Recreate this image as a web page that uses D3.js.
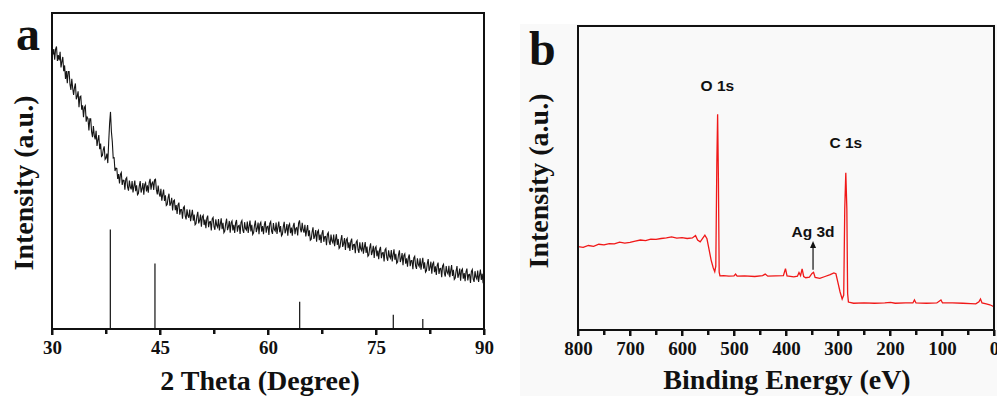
<!DOCTYPE html>
<html>
<head>
<meta charset="utf-8">
<script src="https://cdn.jsdelivr.net/npm/d3@7"></script>
<style>
  html, body { margin: 0; padding: 0; background: #fff; }
  #wrap { position: relative; width: 997px; height: 396px; }
  svg { display: block; position: absolute; left: 0; top: 0; }
  #overlay { position: absolute; left: 0; top: 0; width: 997px; height: 396px; pointer-events: none; }
  #overlay div { position: absolute; }
</style>
</head>
<body>
<div id="wrap">
<svg id="chart" width="997" height="396"></svg>
<div id="overlay"></div>
</div>
<script>
// ---- panel a : XRD pattern ----
const xrdTicks = [30, 45, 60, 75, 90];
const xrdMinor = [37.5, 52.5, 67.5, 82.5];
const xrdStart = 30, xrdStep = 0.125; // scan 30 -> 90 deg
const xrdIntensity = [
  90.7, 86.8, 88.6, 85.2, 88.6, 89.4, 84.8, 86.7,
  85.0, 87.7, 82.8, 84.6, 86.1, 81.6, 83.4, 79.1,
  81.6, 77.8, 81.5, 81.5, 77.4, 75.7, 79.2, 76.2,
  74.1, 76.4, 77.7, 72.7, 73.6, 75.2, 70.2, 73.5,
  73.7, 69.4, 70.8, 67.0, 70.1, 70.6, 65.6, 67.1,
  66.6, 62.8, 66.5, 66.5, 62.4, 60.7, 64.2, 61.2,
  60.0, 62.7, 57.9, 59.8, 61.4, 56.9, 58.7, 54.6,
  54.9, 56.8, 57.8, 53.7, 54.1, 55.5, 52.5, 59.2,
  65.0, 68.7, 62.5, 59.3, 54.1, 54.2, 50.0, 50.9,
  50.8, 47.5, 49.0, 46.1, 48.9, 49.5, 45.6, 47.1,
  47.0, 44.1, 47.5, 47.9, 44.9, 43.8, 47.0, 44.9,
  44.2, 46.8, 43.2, 45.2, 47.0, 43.6, 45.5, 42.5,
  42.9, 45.3, 46.8, 43.2, 44.3, 46.2, 42.5, 45.7,
  46.3, 43.5, 45.5, 43.1, 46.4, 47.5, 44.1, 46.1,
  46.5, 44.0, 47.2, 47.4, 44.1, 42.6, 45.4, 42.9,
  41.9, 44.4, 40.6, 42.5, 44.1, 40.5, 42.3, 39.1,
  39.4, 41.6, 42.8, 39.0, 39.8, 41.5, 37.5, 40.5,
  40.8, 37.6, 39.2, 36.4, 39.3, 40.0, 36.2, 37.8,
  37.8, 34.9, 38.4, 38.8, 35.8, 34.7, 37.9, 35.9,
  35.2, 37.8, 34.1, 36.0, 37.7, 34.3, 36.2, 33.0,
  33.4, 35.7, 37.1, 33.4, 34.4, 36.2, 32.4, 35.5,
  36.0, 32.9, 34.6, 31.9, 35.0, 35.9, 32.2, 33.9,
  34.0, 31.2, 34.8, 35.3, 32.4, 31.4, 34.7, 32.8,
  32.2, 34.8, 31.2, 33.2, 35.0, 31.6, 33.6, 30.5,
  31.0, 33.4, 34.9, 31.3, 32.3, 34.2, 30.5, 33.6,
  34.2, 31.2, 33.0, 30.4, 33.5, 34.5, 30.8, 32.6,
  32.8, 30.1, 33.7, 34.3, 31.3, 30.4, 33.8, 31.8,
  31.3, 34.0, 30.4, 32.5, 34.3, 30.9, 33.0, 29.9,
  30.4, 32.8, 34.3, 30.7, 31.8, 33.7, 30.0, 33.2,
  33.8, 30.8, 32.6, 30.0, 33.1, 34.1, 30.5, 32.3,
  32.5, 29.8, 33.4, 34.0, 31.0, 30.1, 33.5, 31.5,
  31.0, 33.7, 30.1, 32.2, 34.0, 30.6, 32.6, 29.5,
  30.0, 32.4, 33.9, 30.3, 31.4, 33.2, 29.5, 32.7,
  33.3, 30.3, 32.1, 29.5, 32.6, 33.6, 30.0, 31.9,
  32.1, 29.6, 33.5, 34.4, 31.7, 30.6, 33.6, 31.4,
  30.5, 33.0, 29.3, 31.2, 32.9, 29.4, 31.2, 28.1,
  28.4, 30.7, 32.2, 28.5, 29.5, 31.3, 27.6, 30.7,
  31.2, 28.1, 29.9, 27.2, 30.3, 31.3, 27.6, 29.2,
  29.3, 26.5, 30.0, 30.5, 27.6, 26.6, 29.9, 27.9,
  27.3, 29.9, 26.2, 28.3, 30.0, 26.6, 28.5, 25.5,
  25.9, 28.2, 29.7, 26.0, 27.0, 28.8, 25.0, 28.2,
  28.7, 25.6, 27.4, 24.7, 27.7, 28.6, 25.0, 26.7,
  26.8, 24.0, 27.5, 28.0, 25.1, 24.1, 27.4, 25.4,
  24.8, 27.4, 23.8, 25.8, 27.5, 24.1, 26.1, 23.0,
  23.4, 25.7, 27.1, 23.4, 24.5, 26.3, 22.5, 25.6,
  26.1, 23.0, 24.8, 22.1, 25.1, 26.0, 22.4, 24.1,
  24.2, 21.4, 25.0, 25.5, 22.6, 21.6, 24.9, 23.0,
  22.4, 25.0, 21.4, 23.5, 25.2, 21.9, 23.8, 20.8,
  21.2, 23.5, 24.9, 21.2, 22.2, 24.0, 20.2, 23.3,
  23.8, 20.7, 22.4, 19.7, 22.7, 23.6, 19.9, 21.6,
  21.7, 18.9, 22.5, 23.0, 20.0, 19.0, 22.4, 20.4,
  19.8, 22.4, 18.8, 20.8, 22.5, 19.1, 21.1, 18.0,
  18.4, 20.7, 22.1, 18.4, 19.5, 21.3, 17.5, 20.6,
  21.1, 18.0, 19.8, 17.1, 20.1, 21.0, 17.4, 19.1,
  19.2, 16.4, 20.0, 20.5, 17.6, 16.6, 19.9, 18.0,
  17.4, 20.0, 16.4, 18.4, 20.2, 16.8, 18.7, 15.7,
  16.1, 18.4, 19.9, 16.2, 17.3, 19.1, 15.3, 18.5,
  19.0, 15.9, 17.7, 15.1, 18.1, 19.1, 15.4, 17.2,
  17.3, 14.6, 18.2, 18.8, 15.8, 14.9, 18.3, 16.4,
  15.8, 18.5, 14.9, 17.0, 18.8, 15.5, 17.5, 14.5,
  16.5
];
// reference Ag pattern sticks
const stickTheta = [38.1, 44.3, 64.4, 77.4, 81.5];
const stickHeight = [31.5, 20.7, 8.6, 4.5, 3.2];

// ---- panel b : XPS survey ----
const xpsTicks = [800, 700, 600, 500, 400, 300, 200, 100, 0];
const xpsMinor = [750, 650, 550, 450, 350, 250, 150, 50];
const xpsEnergy = [
  800, 790, 780, 770, 760, 750, 740, 730, 720, 710, 700, 690, 680, 670, 660, 650,
  640, 630, 620, 610, 600, 590, 580, 574, 570, 565, 560, 556, 552, 548, 544, 540,
  537, 535, 533, 531.5, 530, 528.5, 527, 520, 510, 500, 497, 494, 480, 460, 445, 440,
  435, 420, 405, 401, 398, 385, 378, 375, 372, 369, 366, 362, 355, 350, 347, 344,
  335, 325, 315, 308, 304, 300, 296, 292, 289, 287, 285, 283, 281.5, 280, 270, 250,
  230, 210, 199, 190, 170, 156, 153, 150, 130, 110, 102, 99, 80, 60, 45, 35,
  29, 26, 23, 15, 8, 3, 0
];
const xpsIntensity = [
  27.4, 27.2, 27.8, 27.5, 28.2, 28.0, 28.4, 28.3, 28.9, 28.6, 28.8, 29.2, 29.6, 29.4, 29.9, 29.8,
  30.1, 30.3, 30.6, 30.2, 30.4, 30.1, 30.3, 31.1, 29.6, 29.0, 30.2, 31.2, 30.0, 26.5, 23.0, 20.5,
  19.2, 21.0, 55.0, 71.0, 50.0, 19.0, 17.8, 17.9, 17.7, 17.8, 18.4, 17.7, 17.8, 17.6, 17.9, 18.4,
  17.7, 17.8, 17.9, 20.2, 17.8, 17.5, 17.7, 18.9, 17.9, 20.1, 17.6, 17.2, 17.4, 18.6, 19.0, 17.3,
  17.0, 17.6, 18.2, 18.8, 18.5, 15.5, 12.5, 10.2, 11.5, 40.0, 51.7, 40.0, 12.0, 9.2, 8.8, 8.9,
  8.8, 8.9, 9.1, 8.8, 8.9, 8.9, 9.9, 8.9, 8.8, 8.9, 9.9, 8.9, 8.9, 8.8, 8.7, 8.6,
  9.3, 10.2, 8.9, 8.6, 8.3, 7.9, 7.6
];
const xpsLabels = [
  { text: "O 1s", energy: 532, value: 78.5 },
  { text: "C 1s", energy: 285, value: 60 },
  { text: "Ag 3d", energy: 348, value: 30.5 }
];

const SERIF = "'Liberation Serif', 'Times New Roman', serif";
const SANS = "'Liberation Sans', Arial, sans-serif";

const svg = d3.select("#chart");
const overlay = d3.select("#overlay");

// faint grey backing of the second figure
svg.append("rect").attr("x", 520).attr("y", 24).attr("width", 477).attr("height", 372).attr("fill", "#f9f9f9");

function serifText(g, x, y, size, str, rotate) {
  return g.append("text")
    .attr("transform", `translate(${x},${y})` + (rotate ? " rotate(-90)" : ""))
    .attr("text-anchor", rotate === undefined ? "start" : "middle")
    .attr("font-family", SERIF).attr("font-weight", "bold")
    .attr("font-size", size).attr("fill", "#111")
    .text(str);
}

// scales
const xa = d3.scaleLinear().domain([30, 90]).range([52, 484]);
const ya = d3.scaleLinear().domain([0, 100]).range([329, 13]);
const xb = d3.scaleLinear().domain([800, 0]).range([578, 994]);
const yb = d3.scaleLinear().domain([0, 100]).range([330, 26]);

// ===== panel a marks =====
const ga = svg.append("g");
ga.append("path")
  .datum(xrdIntensity.map((v, i) => [xrdStart + i * xrdStep, v]))
  .attr("fill", "none")
  .attr("stroke", "#151515")
  .attr("stroke-width", 1.1)
  .attr("d", d3.line().x(d => xa(d[0])).y(d => ya(d[1])));

ga.selectAll("line.stick")
  .data(stickTheta)
  .join("line")
  .attr("class", "stick")
  .attr("x1", d => xa(d)).attr("x2", d => xa(d))
  .attr("y1", ya(0)).attr("y2", (d, i) => ya(stickHeight[i]))
  .attr("stroke", "#111").attr("stroke-width", 1.2);

serifText(ga, 260, 390, 28, "2 Theta (Degree)", false);
serifText(ga, 33, 183, 28, "Intensity (a.u.)", true);
serifText(ga, 16, 50, 48, "a");

// ===== panel b marks =====
const gb = svg.append("g");
gb.append("path")
  .datum(xpsEnergy.map((e, i) => [e, xpsIntensity[i]]))
  .attr("fill", "none")
  .attr("stroke", "#f01818")
  .attr("stroke-width", 1.3)
  .attr("d", d3.line().x(d => xb(d[0])).y(d => yb(d[1])));

gb.selectAll("text.peak")
  .data(xpsLabels)
  .join("text")
  .attr("class", "peak")
  .attr("x", d => xb(d.energy))
  .attr("y", d => yb(d.value))
  .attr("text-anchor", "middle")
  .attr("font-family", SANS).attr("font-weight", "bold")
  .attr("font-size", 15.5).attr("fill", "#111")
  .text(d => d.text);

// arrow to the Ag 3d signal
const ag = xpsLabels[2];
const ax = xb(ag.energy), ay0 = yb(19.8), ay1 = yb(29.3);
gb.append("line")
  .attr("x1", ax).attr("x2", ax).attr("y1", ay0).attr("y2", ay1 + 5)
  .attr("stroke", "#111").attr("stroke-width", 1.2);
gb.append("path")
  .attr("d", `M${ax},${ay1}L${ax - 3},${ay1 + 7}L${ax + 3},${ay1 + 7}Z`)
  .attr("fill", "#111");

serifText(gb, 787, 389, 28, "Binding Energy (eV)", false);
serifText(gb, 548, 181, 28, "Intensity (a.u.)", true);
serifText(gb, 529, 65, 48, "b");

// ===== frames and x axes =====
function frameAndAxis(x, y, majors, minors) {
  const [x0, x1] = x.range();
  const [y0, y1] = y.range();

  // svg frame
  svg.append("rect")
    .attr("x", x0).attr("y", y1).attr("width", x1 - x0).attr("height", y0 - y1)
    .attr("fill", "none").attr("stroke", "#111").attr("stroke-width", 2);

  // tick marks + labels from d3 axes
  svg.append("g").attr("transform", `translate(0,${y0})`)
    .call(d3.axisBottom(x).tickValues(minors).tickSize(5).tickSizeOuter(0).tickFormat(""))
    .call(a => a.select(".domain").remove())
    .call(a => a.selectAll("line").attr("stroke", "#111").attr("stroke-width", 2));
  svg.append("g").attr("transform", `translate(0,${y0})`)
    .call(d3.axisBottom(x).tickValues(majors).tickSize(6).tickSizeOuter(0).tickPadding(6))
    .call(a => a.select(".domain").remove())
    .call(a => a.selectAll("line").attr("stroke", "#111").attr("stroke-width", 2))
    .call(a => a.selectAll("text")
      .attr("font-family", SERIF).attr("font-weight", "bold").attr("font-size", 19).attr("fill", "#111"));

  // the same frame and ticks as html boxes laid over the svg
  overlay.append("div")
    .style("left", `${x0 - 1}px`).style("top", `${y1 - 1}px`)
    .style("width", `${x1 - x0 - 2}px`).style("height", `${y0 - y1 - 2}px`)
    .style("border", "2px solid #111");
  overlay.selectAll(null)
    .data(majors.map(v => [v, 6]).concat(minors.map(v => [v, 5])))
    .join("div")
    .style("left", d => `${x(d[0]) - 1}px`).style("top", `${y0}px`)
    .style("width", "2px").style("height", d => `${d[1]}px`)
    .style("background", "#111");
}
frameAndAxis(xa, ya, xrdTicks, xrdMinor);
frameAndAxis(xb, yb, xpsTicks, xpsMinor);
</script>
</body>
</html>
